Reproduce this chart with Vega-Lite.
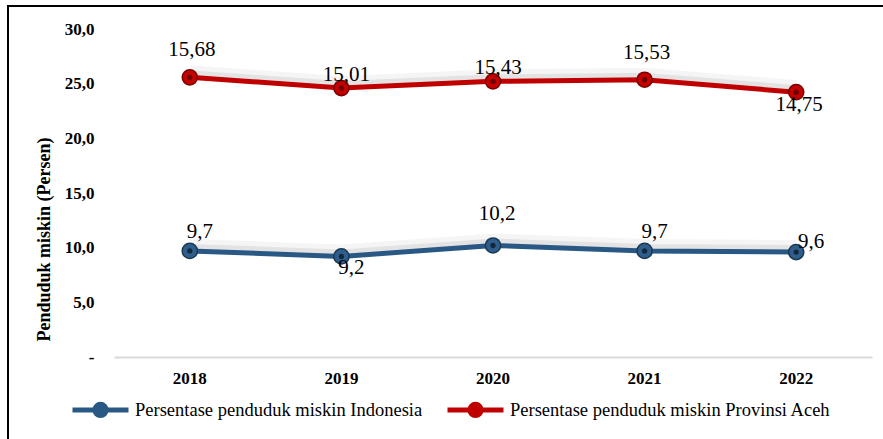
{
  "$schema": "https://vega.github.io/schema/vega-lite/v6.json",
  "width": 880,
  "height": 440,
  "autosize": {"type": "none"},
  "padding": {"left": 8, "top": 6, "right": 0, "bottom": 0},
  "background": "white",
  "config": {
    "locale": {"number": {"decimal": ",", "thousands": ".", "grouping": [3], "currency": ["", ""]}},
    "view": {"stroke": "black", "strokeWidth": 2},
    "font": "Liberation Serif"
  },
  "data": {
    "values": [
      {"year": "2018", "series": "Persentase penduduk miskin Indonesia", "value": 9.7},
      {"year": "2019", "series": "Persentase penduduk miskin Indonesia", "value": 9.2},
      {"year": "2020", "series": "Persentase penduduk miskin Indonesia", "value": 10.2},
      {"year": "2021", "series": "Persentase penduduk miskin Indonesia", "value": 9.7},
      {"year": "2022", "series": "Persentase penduduk miskin Indonesia", "value": 9.6},
      {"year": "2018", "series": "Persentase penduduk miskin Provinsi Aceh", "value": 15.68},
      {"year": "2019", "series": "Persentase penduduk miskin Provinsi Aceh", "value": 15.01},
      {"year": "2020", "series": "Persentase penduduk miskin Provinsi Aceh", "value": 15.43},
      {"year": "2021", "series": "Persentase penduduk miskin Provinsi Aceh", "value": 15.53},
      {"year": "2022", "series": "Persentase penduduk miskin Provinsi Aceh", "value": 14.75}
    ]
  },
  "encoding": {
    "x": {
      "field": "year",
      "type": "ordinal",
      "bandPosition": 0.5,
      "scale": {"type": "band", "range": [106, 864], "paddingInner": 0, "paddingOuter": 0},
      "axis": {
        "title": null,
        "labelAngle": 0,
        "labelFont": "Liberation Serif",
        "labelFontSize": 17,
        "labelFontWeight": "bold",
        "labelColor": "black",
        "labelPadding": 13,
        "ticks": false,
        "grid": false,
        "domainColor": "#d9d9d9",
        "domainWidth": 2,
        "offset": -89
      }
    },
    "color": {
      "field": "series",
      "type": "nominal",
      "scale": {
        "domain": ["Persentase penduduk miskin Indonesia", "Persentase penduduk miskin Provinsi Aceh"],
        "range": ["#2a5885", "#c00000"]
      },
      "legend": {
        "orient": "none",
        "legendX": 62,
        "legendY": 373,
        "direction": "horizontal",
        "title": null,
        "symbolType": "M-1,0L1,0M0.2,0A0.2,0.2,0,1,1,-0.2,0A0.2,0.2,0,1,1,0.2,0",
        "symbolSize": 3136,
        "symbolStrokeWidth": 5,
        "labelFont": "Liberation Serif",
        "labelFontSize": 18.5,
        "labelColor": "black",
        "labelOffset": 4,
        "labelLimit": 0,
        "columnPadding": 14,
        "encode": {"symbols": {"update": {"fill": {"scale": "color", "field": "value"}, "opacity": {"value": 1}}}}
      }
    }
  },
  "layer": [
    {
      "transform": [{"filter": "datum.series === 'Persentase penduduk miskin Indonesia'"}],
      "encoding": {
        "y": {
          "field": "value",
          "type": "quantitative",
          "scale": {"domain": [0, 30], "range": [351, 23], "nice": false, "zero": false},
          "axis": {
            "title": "Penduduk miskin (Persen)",
            "values": [0, 5, 10, 15, 20, 25, 30],
            "format": ".1f",
            "labelExpr": "datum.value === 0 ? '-' : datum.label",
            "domain": false,
            "ticks": false,
            "grid": false,
            "offset": -92,
            "labelFont": "Liberation Serif",
            "labelFontSize": 17,
            "labelFontWeight": "bold",
            "labelColor": "black",
            "labelPadding": 6,
            "titleFont": "Liberation Serif",
            "titleFontSize": 18,
            "titleFontWeight": "bold",
            "titleColor": "black",
            "titleX": -56,
            "titleY": 233,
            "titleBaseline": "middle"
          }
        }
      },
      "layer": [
        {"mark": {"type": "line", "strokeWidth": 14, "opacity": 0.04, "yOffset": -5}, "encoding": {"color": {"value": "#000000"}}},
        {"mark": {"type": "line", "strokeWidth": 8, "opacity": 0.07, "yOffset": -3}, "encoding": {"color": {"value": "#000000"}}},
        {"mark": {"type": "line", "strokeWidth": 5}},
        {"mark": {"type": "point", "filled": true, "size": 230, "stroke": "#1a3954", "strokeWidth": 1.5, "opacity": 1}, "encoding": {"color": {"value": "#2f5e8c"}}},
        {"mark": {"type": "point", "filled": true, "size": 28, "opacity": 1}, "encoding": {"color": {"value": "#14283c"}}},
        {
          "transform": [{"filter": "datum.year === '2018' || datum.year === '2021'"}],
          "mark": {"type": "text", "font": "Liberation Serif", "fontSize": 21, "dx": 10, "dy": -19, "baseline": "middle"},
          "encoding": {"text": {"field": "value", "type": "quantitative", "format": ".1f"}, "color": {"value": "black"}}
        },
        {
          "transform": [{"filter": "datum.year === '2020'"}],
          "mark": {"type": "text", "font": "Liberation Serif", "fontSize": 21, "dx": 4, "dy": -31, "baseline": "middle"},
          "encoding": {"text": {"field": "value", "type": "quantitative", "format": ".1f"}, "color": {"value": "black"}}
        },
        {
          "transform": [{"filter": "datum.year === '2019'"}],
          "mark": {"type": "text", "font": "Liberation Serif", "fontSize": 21, "dx": 10, "dy": 12, "baseline": "middle"},
          "encoding": {"text": {"field": "value", "type": "quantitative", "format": ".1f"}, "color": {"value": "black"}}
        },
        {
          "transform": [{"filter": "datum.year === '2022'"}],
          "mark": {"type": "text", "font": "Liberation Serif", "fontSize": 21, "dx": 15, "dy": -10, "baseline": "middle"},
          "encoding": {"text": {"field": "value", "type": "quantitative", "format": ".1f"}, "color": {"value": "black"}}
        }
      ]
    },
    {
      "transform": [{"filter": "datum.series === 'Persentase penduduk miskin Provinsi Aceh'"}],
      "encoding": {
        "y": {
          "field": "value",
          "type": "quantitative",
          "scale": {"domain": [-1.8, 18.7], "range": [351, 23], "nice": false, "zero": false},
          "axis": null
        }
      },
      "layer": [
        {"mark": {"type": "line", "strokeWidth": 14, "opacity": 0.04, "yOffset": -5}, "encoding": {"color": {"value": "#000000"}}},
        {"mark": {"type": "line", "strokeWidth": 8, "opacity": 0.07, "yOffset": -3}, "encoding": {"color": {"value": "#000000"}}},
        {"mark": {"type": "line", "strokeWidth": 5}},
        {"mark": {"type": "point", "filled": true, "size": 230, "stroke": "#7a0000", "strokeWidth": 1.5, "opacity": 1}, "encoding": {"color": {"value": "#c40000"}}},
        {"mark": {"type": "point", "filled": true, "size": 28, "opacity": 1}, "encoding": {"color": {"value": "#6a0000"}}},
        {
          "transform": [{"filter": "datum.year === '2018' || datum.year === '2021'"}],
          "mark": {"type": "text", "font": "Liberation Serif", "fontSize": 21, "dx": 2, "dy": -27, "baseline": "middle"},
          "encoding": {"text": {"field": "value", "type": "quantitative", "format": ".2f"}, "color": {"value": "black"}}
        },
        {
          "transform": [{"filter": "datum.year === '2019' || datum.year === '2020'"}],
          "mark": {"type": "text", "font": "Liberation Serif", "fontSize": 21, "dx": 5, "dy": -13, "baseline": "middle"},
          "encoding": {"text": {"field": "value", "type": "quantitative", "format": ".2f"}, "color": {"value": "black"}}
        },
        {
          "transform": [{"filter": "datum.year === '2022'"}],
          "mark": {"type": "text", "font": "Liberation Serif", "fontSize": 21, "dx": 3, "dy": 13, "baseline": "middle"},
          "encoding": {"text": {"field": "value", "type": "quantitative", "format": ".2f"}, "color": {"value": "black"}}
        }
      ]
    }
  ],
  "resolve": {"scale": {"y": "independent"}, "axis": {"y": "independent"}}
}
